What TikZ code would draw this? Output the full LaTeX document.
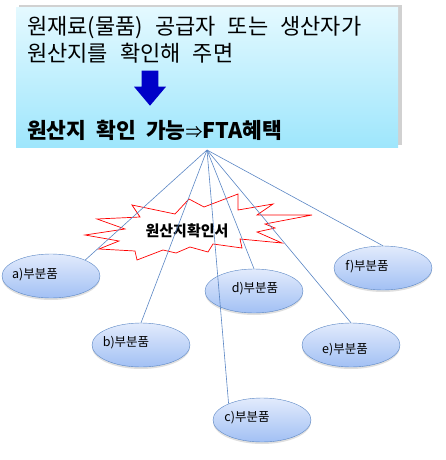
\documentclass[tikz,border=0pt]{standalone}
\usepackage{fontspec}
\newfontfamily\kr{Noto Sans CJK KR}
\usepackage{tikz}
\usetikzlibrary{shapes.geometric,shadows,positioning}

\definecolor{boxtop}{HTML}{E4F9FF}
\definecolor{boxbot}{HTML}{9EE6FC}
\definecolor{parttop}{HTML}{E2EBFC}
\definecolor{partbot}{HTML}{A2C0F4}
\definecolor{partline}{HTML}{5A86C4}
\definecolor{arrowblue}{HTML}{0000C8}
\newcommand\widesp{\spaceskip 12pt\relax}
\newcommand\boldsp{\spaceskip 10pt\relax}

\begin{document}
\begin{tikzpicture}[x=1pt,y=-1pt,font=\kr,
            part node/.style={ellipse,draw=partline,top color=parttop,bottom color=partbot,
              minimum width=98pt,minimum height=44pt,inner sep=0pt,
              drop shadow={shadow xshift=0pt,shadow yshift=-2pt,opacity=0.25}},
            part label/.style={font=\kr\fontsize{12.5}{14}\selectfont},
            cond text/.style={anchor=base west,inner sep=0pt,
              font=\kr\fontsize{22}{27}\selectfont\widesp},
            link/.style={draw=partline,line width=0.6pt}]

    \useasboundingbox (0,0) rectangle (445,460);

    % top box
    \fill[black!30,opacity=0.6] (19,5) rectangle (402,145);
    \shade[top color=boxtop,bottom color=boxbot] (16,8) rectangle (398,147);
    \node[cond text] (cond1) at (27,35) {원재료(물품) 공급자 또는 생산자가};
    \node[cond text] (cond2) at (27,62) {원산지를 확인해 주면};
    \fill[arrowblue] (141.7,70.7) -- (158.3,70.7) -- (158.3,86.7) -- (166,86.7)
          -- (150,105.7) -- (134,86.7) -- (141.7,86.7) -- cycle;
    \node[anchor=base west,inner sep=0pt,font=\kr\bfseries\fontsize{21.5}{24}\selectfont\boldsp]
          (fta) at (27,138) {원산지 확인 가능{\mdseries\fontsize{17}{20}\selectfont⇒}FTA혜택};

    % certificate burst
    \draw[red,fill=white,line width=0.7pt] (132,205) -- (175,214) -- (189,199) -- (204,207)
          -- (238,194) -- (238,210) -- (273,204) -- (257,215) -- (312,215) -- (265,224)
          -- (275,228) -- (257,232) -- (282,243) -- (240,239) -- (242,248) -- (213,244)
          -- (208,252) -- (190,247) -- (176,253) -- (163,250) -- (137,260) -- (135,251)
          -- (99,249) -- (119,241) -- (85,235) -- (125,229) -- (97,219) -- (140,217) -- cycle;
    \node[font=\kr\bfseries\fontsize{15}{18}\selectfont,inner sep=0pt] (cert) at (187,231) {원산지확인서};

    % parts
    \node[part node] (a) at (51,276) {};
    \node[part node] (b) at (141,345) {};
    \node[part node] (c) at (262,420) {};
    \node[part node] (d) at (254,291) {};
    \node[part node] (e) at (351,345) {};
    \node[part node] (f) at (383,268) {};

    \node[part label] (la) at (35,275) {a)부분품};
    \node[part label] (lb) at (126,343) {b)부분품};
    \node[part label] (lc) at (247,418) {c)부분품};
    \node[part label] (ld) at (255,289) {d)부분품};
    \node[part label] (le) at (345,350) {e)부분품};
    \node[part label] (lf) at (367,267) {f)부분품};

    \coordinate (hub) at (207,150);
    \path[link]
    (hub) edge (a.25)
    edge (b.north)
    edge (c.154)
    edge (d.north)
    edge (e.north)
    edge (f.north);
\end{tikzpicture}
\end{document}
